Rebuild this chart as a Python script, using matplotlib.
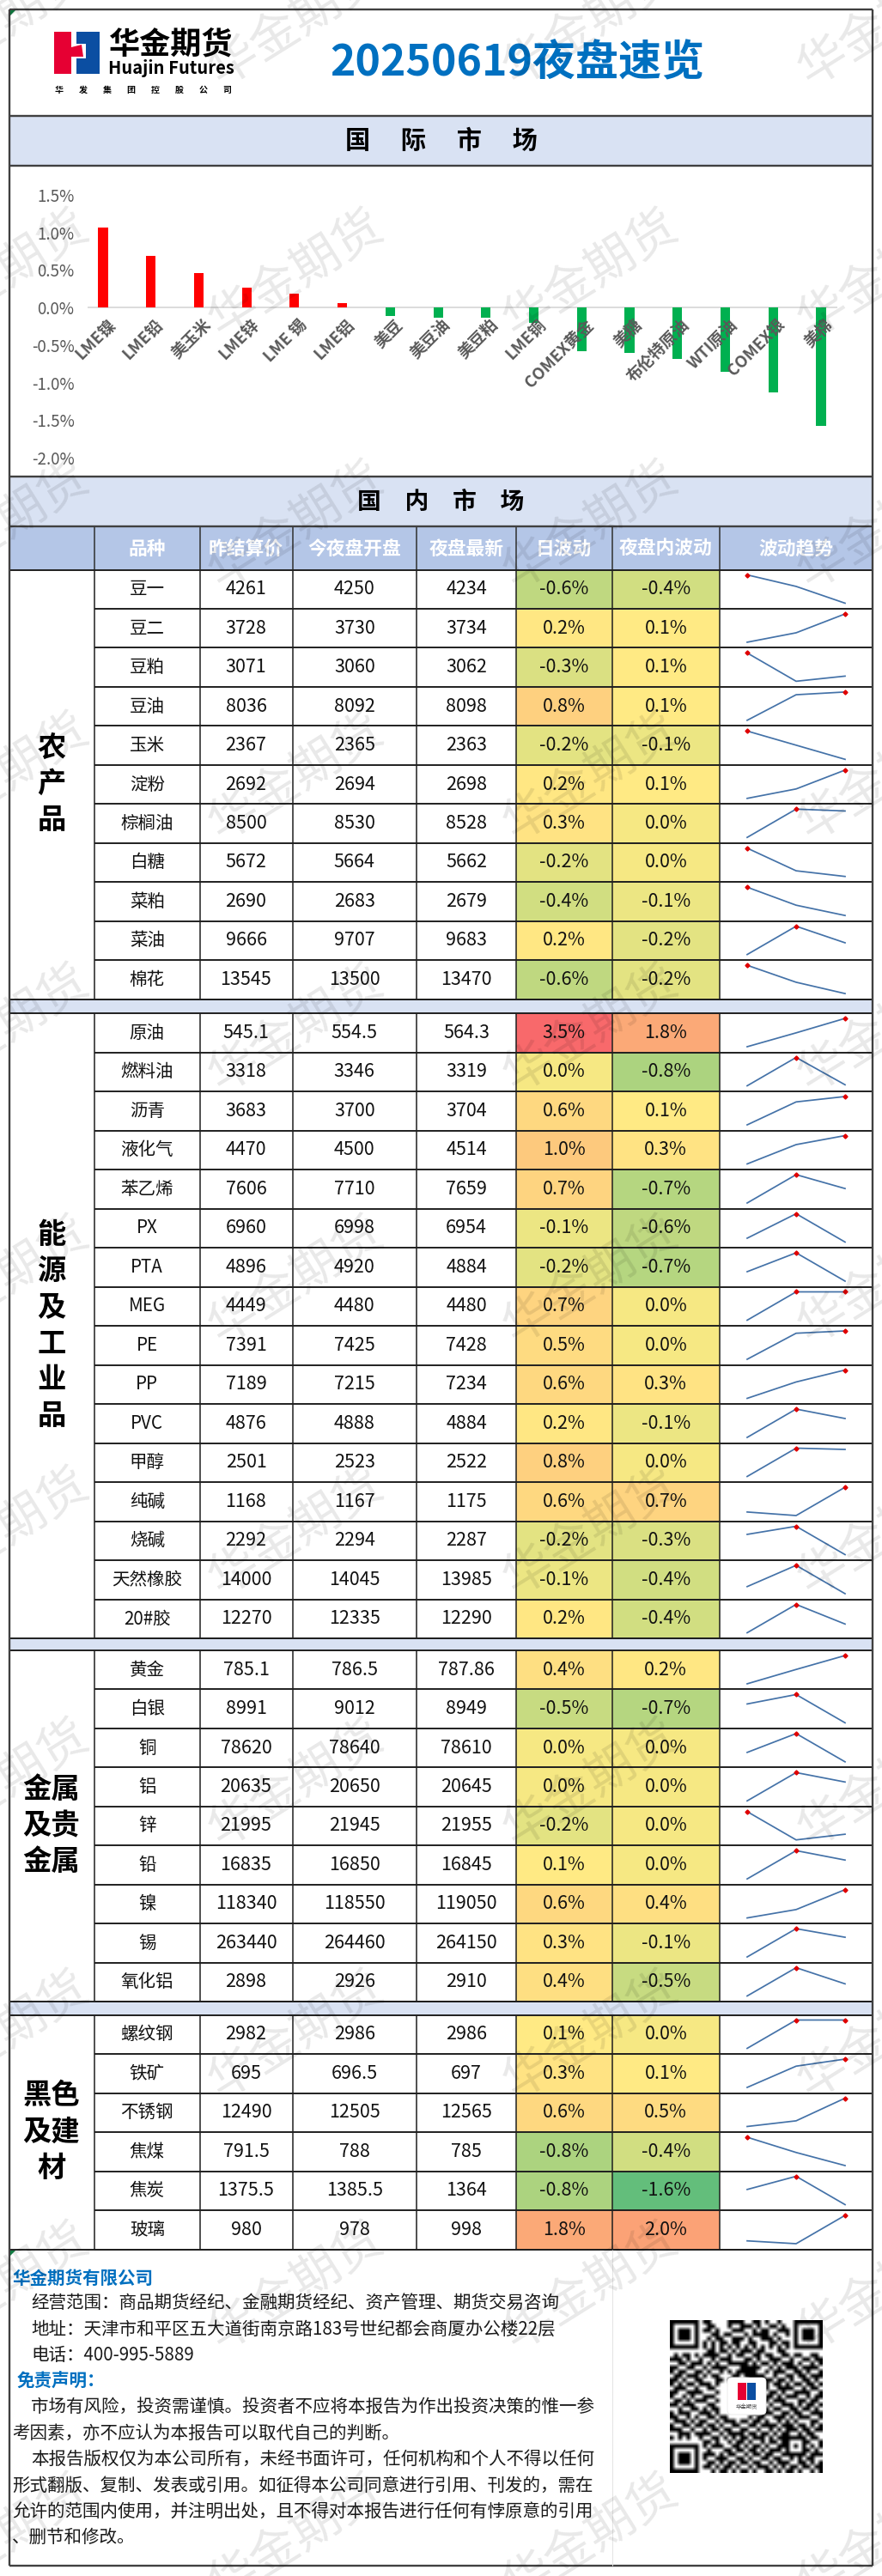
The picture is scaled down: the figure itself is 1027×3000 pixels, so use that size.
import matplotlib
matplotlib.use("Agg")
import matplotlib.pyplot as plt
import numpy as np
from matplotlib.colors import LinearSegmentedColormap, TwoSlopeNorm
from matplotlib.patches import Rectangle, Polygon, FancyBboxPatch

plt.rcParams['font.family'] = ['Noto Sans CJK SC', 'DejaVu Sans']

# international market
intl_names = ['LME镍', 'LME铅', '美玉米', 'LME锌', 'LME 锡', 'LME铝', '美豆', '美豆油', '美豆粕', 'LME铜',
              'COMEX黄金', '美糖', '布伦特原油', 'WTI原油', 'COMEX银', '美棉']
intl_change = [1.07, 0.69, 0.46, 0.27, 0.18, 0.06, -0.11, -0.13, -0.14, -0.20,
               -0.585, -0.61, -0.69, -0.855, -1.13, -1.58]
intl_ticks = [-2.0, -1.5, -1.0, -0.5, 0.0, 0.5, 1.0, 1.5]

# domestic market, one block per sector
agri_names = ['豆一', '豆二', '豆粕', '豆油', '玉米', '淀粉', '棕榈油', '白糖', '菜粕', '菜油', '棉花']
agri_prev = [4261, 3728, 3071, 8036, 2367, 2692, 8500, 5672, 2690, 9666, 13545]
agri_open = [4250, 3730, 3060, 8092, 2365, 2694, 8530, 5664, 2683, 9707, 13500]
agri_last = [4234, 3734, 3062, 8098, 2363, 2698, 8528, 5662, 2679, 9683, 13470]
agri_day = [-0.6, 0.2, -0.3, 0.8, -0.2, 0.2, 0.3, -0.2, -0.4, 0.2, -0.6]
agri_night = [-0.4, 0.1, 0.1, 0.1, -0.1, 0.1, 0.0, 0.0, -0.1, -0.2, -0.2]

energy_names = ['原油', '燃料油', '沥青', '液化气', '苯乙烯', 'PX', 'PTA', 'MEG', 'PE', 'PP', 'PVC', '甲醇', '纯碱',
                '烧碱', '天然橡胶', '20#胶']
energy_prev = [545.1, 3318, 3683, 4470, 7606, 6960, 4896, 4449, 7391, 7189, 4876, 2501, 1168, 2292, 14000, 12270]
energy_open = [554.5, 3346, 3700, 4500, 7710, 6998, 4920, 4480, 7425, 7215, 4888, 2523, 1167, 2294, 14045, 12335]
energy_last = [564.3, 3319, 3704, 4514, 7659, 6954, 4884, 4480, 7428, 7234, 4884, 2522, 1175, 2287, 13985, 12290]
energy_day = [3.5, 0.0, 0.6, 1.0, 0.7, -0.1, -0.2, 0.7, 0.5, 0.6, 0.2, 0.8, 0.6, -0.2, -0.1, 0.2]
energy_night = [1.8, -0.8, 0.1, 0.3, -0.7, -0.6, -0.7, 0.0, 0.0, 0.3, -0.1, 0.0, 0.7, -0.3, -0.4, -0.4]

metal_names = ['黄金', '白银', '铜', '铝', '锌', '铅', '镍', '锡', '氧化铝']
metal_prev = [785.1, 8991, 78620, 20635, 21995, 16835, 118340, 263440, 2898]
metal_open = [786.5, 9012, 78640, 20650, 21945, 16850, 118550, 264460, 2926]
metal_last = [787.86, 8949, 78610, 20645, 21955, 16845, 119050, 264150, 2910]
metal_day = [0.4, -0.5, 0.0, 0.0, -0.2, 0.1, 0.6, 0.3, 0.4]
metal_night = [0.2, -0.7, 0.0, 0.0, 0.0, 0.0, 0.4, -0.1, -0.5]

black_names = ['螺纹钢', '铁矿', '不锈钢', '焦煤', '焦炭', '玻璃']
black_prev = [2982, 695, 12490, 791.5, 1375.5, 980]
black_open = [2986, 696.5, 12505, 788, 1385.5, 978]
black_last = [2986, 697, 12565, 785, 1364, 998]
black_day = [0.1, 0.3, 0.6, -0.8, -0.8, 1.8]
black_night = [0.0, 0.1, 0.5, -0.4, -1.6, 2.0]

header_labels = ['品种', '昨结算价', '今夜盘开盘', '夜盘最新', '日波动', '夜盘内波动', '波动趋势']

# contact + disclaimer block
footer_lines = [
    (14, 2653, '华金期货有限公司', True),
    (36, 2682, '经营范围：商品期货经纪、金融期货经纪、资产管理、期货交易咨询', False),
    (36, 2713, '地址：天津市和平区五大道街南京路183号世纪都会商厦办公楼22层', False),
    (36, 2743, '电话：400-995-5889', False),
    (20, 2773, '免责声明：', True),
    (36, 2803, '市场有风险，投资需谨慎。投资者不应将本报告为作出投资决策的惟一参', False),
    (14, 2834, '考因素，亦不应认为本报告可以取代自己的判断。', False),
    (36, 2864, '本报告版权仅为本公司所有，未经书面许可，任何机构和个人不得以任何', False),
    (14, 2895, '形式翻版、复制、发表或引用。如征得本公司同意进行引用、刊发的，需在', False),
    (14, 2925, '允许的范围内使用，并注明出处，且不得对本报告进行任何有悖原意的引用', False),
    (14, 2955, '、删节和修改。', False),
]

qr_rows = [
    "1111111011000011110011010010001111111",
    "1000001001100010011101001101001000001",
    "1011101011010001110010110011101011101",
    "1011101000110110001011110100101011101",
    "1011101001011001110100111010001011101",
    "1000001010101101100110001101101000001",
    "1111111010101010101010101010101111111",
    "0000000001101101011101100011000000000",
    "0101101011110010110011011001101100110",
    "1110100100101110001101001110010011011",
    "0011011101010011111010110101110100101",
    "1100110010111100011111001010111011110",
    "1011001101001010111110010111001101001",
    "0110111010110001101111100100110110111",
    "1101001100011010000111111011010011010",
    "1010110111010000000011110110101101101",
    "0111001001100000000001110011110010110",
    "1100111100010000000000101101001111001",
    "1001010011100000000000011010111001011",
    "0110101110010000000000110111000110110",
    "1101110001100000000000101001110101101",
    "0010011010110000000001010110011011010",
    "1011100111010000000010111001101100111",
    "1100101001101100000101100111010111001",
    "0111010110010111011011010010101000110",
    "1001101101101001100110111101110110101",
    "1110010010110110011001001010111011011",
    "0011101111001011110110110101100101100",
    "1010100100110101011011101011111110110",
    "0000000011010010110100101101100011001",
    "1111111010111001101011010011101010101",
    "1000001001000110110110101110100011010",
    "1011101011101011001011011001111110111",
    "1011101010011100110100110110010101100",
    "1011101001101011011011001011100110101",
    "1000001011010110100101110101011011011",
    "1111111000101101011010011010110100101",
]

W, H = 1027, 3000
BAND = '#D9E2F3'
HEAD = '#B4C6E7'
FRAME = '#404040'
LINE = '#1F1F1F'
col_x = [11, 110, 232.5, 340.5, 485, 601, 712.5, 838, 1016]


def px_axes(left, top, right, bottom, **kw):
    # axes placed by pixel box, y counted from the top of the picture
    return fig.add_axes([left / W, 1 - bottom / H, (right - left) / W, (bottom - top) / H], **kw)


fig = plt.figure(figsize=(W / 100, H / 100), dpi=100, facecolor='white')

# page axes in pixels, holds the table grid and all loose text
page = fig.add_axes([0, 0, 1, 1], zorder=1)
page.set_xlim(0, W)
page.set_ylim(H, 0)
page.axis('off')


def band(top, bottom, color):
    page.add_patch(Rectangle((11, top), 1005, bottom - top, fc=color, ec='none', zorder=1))


def hline(y, x0=11, x1=1016, lw=1.4, color=LINE):
    page.plot([x0, x1], [y, y], color=color, lw=lw, solid_capstyle='butt', zorder=4)


def vline(x, y0, y1, lw=1.1, color=LINE):
    page.plot([x, x], [y0, y1], color=color, lw=lw, solid_capstyle='butt', zorder=4)


# header with logo
page.add_patch(Rectangle((63.3, 37), 26, 49, fc='#E60033', ec='none', zorder=2))
page.add_patch(Rectangle((89, 37), 27, 49, fc='#0B4EA2', ec='none', zorder=2))
page.add_patch(Rectangle((83, 37), 6, 49, fc='white', ec='none', zorder=3))
page.add_patch(Rectangle((89, 51), 11, 17, fc='white', ec='none', zorder=3))
page.add_patch(Polygon([(83, 55), (95, 52), (97, 66), (83, 66)], fc='#E60033', ec='none', zorder=3))
page.text(199, 52, '华金期货', fontsize=26, fontweight='bold', ha='center', va='center', color='black')
page.text(199, 80, 'Huajin Futures', fontsize=14.5, fontweight='bold', ha='center', va='center', color='black')
page.text(166.5, 105, '        '.join('华发集团控股公司'), fontsize=7.2, fontweight='bold',
          ha='center', va='center', color='black')
page.text(602, 73, '20250619夜盘速览', fontsize=36, fontweight='bold', ha='center', va='center', color='#0070C0')

band(135, 193, BAND)
page.text(514, 164, '国　 际　 市　 场', fontsize=21, fontweight='bold', ha='center', va='center', color='black')
band(555, 613, BAND)
page.text(513, 585, '国　内　市　场', fontsize=20, fontweight='bold', ha='center', va='center', color='black')
band(613, 663.5, HEAD)
for i, label in enumerate(header_labels):
    page.text((col_x[i + 1] + col_x[i + 2]) / 2, 639, label, fontsize=15.7, fontweight='bold',
              ha='center', va='center', color='white')

# heat colours, shared scale over both change columns
heat = LinearSegmentedColormap.from_list('heat', ['#63BE7B', '#FFEB84', '#F8696B'])
heat_norm = TwoSlopeNorm(vmin=-1.6, vcenter=0.1, vmax=3.5)

sections = [
    (663.5, 1163.6, '农\n产\n品', agri_names, agri_prev, agri_open, agri_last, agri_day, agri_night),
    (1180, 1908, '能\n源\n及\n工\n业\n品', energy_names, energy_prev, energy_open, energy_last, energy_day, energy_night),
    (1922, 2331, '金属\n及贵\n金属', metal_names, metal_prev, metal_open, metal_last, metal_day, metal_night),
    (2346.5, 2619.5, '黑色\n及建\n材', black_names, black_prev, black_open, black_last, black_day, black_night),
]

for top, bottom, title, names, prev, opened, last, day, night in sections:
    edges = np.linspace(top, bottom, len(names) + 1)
    page.text(60, (top + bottom) / 2, title, fontsize=24, fontweight='bold', ha='center', va='center',
              color='black', linespacing=1.36)
    for r, name in enumerate(names):
        y0, y1 = edges[r], edges[r + 1]
        yc = (y0 + y1) / 2
        page.text((col_x[1] + col_x[2]) / 2, yc, name, fontsize=14.8, ha='center', va='center', color='#111111')
        for c, vals in zip([2, 3, 4], [prev, opened, last]):
            page.text((col_x[c] + col_x[c + 1]) / 2, yc, f'{vals[r]:g}', fontsize=15.5, ha='center', va='center',
                      color='#111111')
        for c, vals in zip([5, 6], [day, night]):
            page.add_patch(Rectangle((col_x[c], y0), col_x[c + 1] - col_x[c], y1 - y0,
                                     fc=heat(heat_norm(vals[r])), ec='none', zorder=1))
            page.text((col_x[c] + col_x[c + 1]) / 2, yc, f'{vals[r]:.1f}%', fontsize=15.5, ha='center', va='center',
                      color='#111111', zorder=5)
        # sparkline of the three prices, red marker on the high
        trend = np.array([prev[r], opened[r], last[r]], dtype=float)
        sp = px_axes(870, y0 + 6, 984, y1 - 6.5, zorder=2)
        sp.axis('off')
        sp.set_xlim(0, 2)
        sp.set_ylim(trend.min(), trend.max())
        sp.plot([0, 1, 2], trend, color='#4472A8', lw=1.25, clip_on=False)
        high = np.flatnonzero(trend == trend.max())
        sp.plot(high, trend[high], ls='none', marker='D', ms=2.6, color='#E00000', clip_on=False)
        hline(y1, x0=110)
    vline(col_x[1], top, bottom)
    for x in col_x[2:-1]:
        vline(x, top, bottom)

# separator strips between the sectors
band(1163.6, 1180, BAND)
band(1908, 1922, BAND)
band(2331, 2346.5, BAND)
for y in [1163.6, 1180, 1908, 1922, 2331, 2346.5, 2619.5]:
    hline(y)
for x in col_x[1:-1]:
    vline(x, 613, 663.5, color='#303030')
hline(613)
hline(663.5)

# frame
for y in [11, 135, 193, 555, 613, 2988]:
    hline(y, lw=1.7, color=FRAME)
vline(11, 11, 2988, lw=1.7, color=FRAME)
vline(1016, 11, 2988, lw=1.7, color=FRAME)
vline(712.5, 2620, 2988, lw=0.7, color='#E4E4E4')
for y in [12, 2621]:
    page.add_patch(Polygon([(12, y), (18, y), (12, y + 6)], fc='#107C41', ec='none', zorder=5))

# footer
for x, y, line, is_title in footer_lines:
    page.text(x, y, line, fontsize=14.8, ha='left', va='center', fontweight='bold' if is_title else 'normal',
              color='#0070C0' if is_title else '#1A1A1A')

# bar chart, centres 55.7 px apart, 43.7 px per half percent
chart = px_axes(92.1, 227, 983.8, 533, zorder=2)
chart.patch.set_alpha(0)
chart.set_xlim(-0.5, 15.5)
chart.set_ylim(-2.0, 1.5)
bar_colors = ['#FF0000' if v > 0 else '#00B050' for v in intl_change]
chart.bar(range(len(intl_change)), intl_change, width=0.2, color=bar_colors, zorder=2)
chart.hlines(0, -0.33, 15.35, color='#D9D9D9', lw=1.3, zorder=1)
for s in chart.spines.values():
    s.set_visible(False)
chart.set_xticks([])
chart.set_yticks(intl_ticks)
chart.set_yticklabels([f'{t:.1f}%' for t in intl_ticks], fontsize=13.5, color='#595959')
chart.tick_params(axis='y', length=0, pad=4)
for i, name in enumerate(intl_names):
    chart.text(i + 0.08, -0.12, name, rotation=45, rotation_mode='anchor', ha='right', va='top',
               fontsize=13.5, fontweight='bold', color='#595959', zorder=3, clip_on=False)

# QR code
qr = np.array([[int(ch) for ch in row.ljust(37, '0')[:37]] for row in qr_rows])
qr_ax = px_axes(780, 2702, 958, 2880, zorder=2)
qr_ax.imshow(qr, cmap='gray_r', interpolation='bilinear', aspect='auto')
qr_ax.axis('off')
page2 = fig.add_axes([0, 0, 1, 1], zorder=3)
page2.set_xlim(0, W)
page2.set_ylim(H, 0)
page2.axis('off')
page2.patch.set_alpha(0)
page2.add_patch(FancyBboxPatch((850, 2772), 39, 37, boxstyle='round,pad=3,rounding_size=5', fc='white',
                               ec='#E8E8E8', lw=0.6))
page2.add_patch(Rectangle((859, 2775), 10, 20, fc='#E60033', ec='none'))
page2.add_patch(Rectangle((870, 2775), 10, 20, fc='#0B4EA2', ec='none'))
page2.text(869.5, 2803, '华金期货', fontsize=4.6, ha='center', va='center', color='#444444')

# watermark lattice over everything
for wx in [2, 345, 688, 1031]:
    for wy in range(27, 3100, 293):
        page2.text(wx, wy, '华金期货', fontsize=41, rotation=32, rotation_mode='anchor', ha='center', va='center',
                   color='black', alpha=0.09, zorder=10, clip_on=True)

fig.savefig('out.png', dpi=100)
